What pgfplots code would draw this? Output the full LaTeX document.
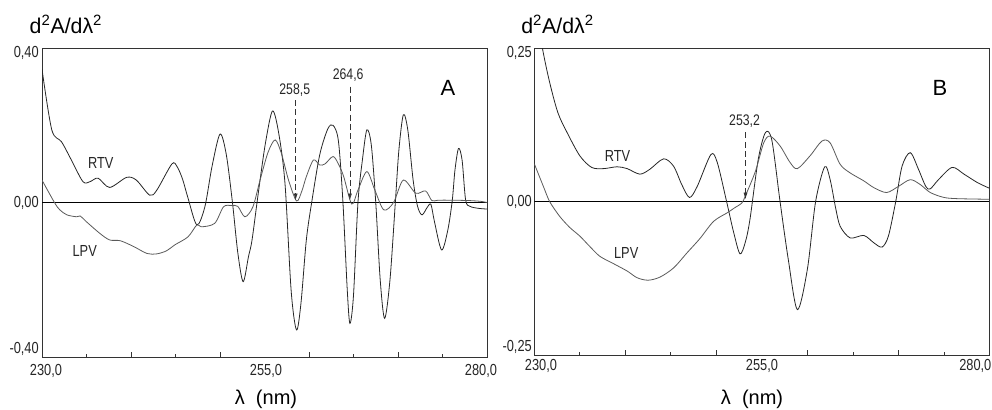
\documentclass[border=0pt]{standalone}
\usepackage{fontspec}
\setmainfont{Liberation Sans}
\usepackage{graphicx}
\usepackage{pgfplots}
\usepackage{pgfplotstable}
\pgfplotsset{compat=1.18}
\usetikzlibrary{arrows.meta}

\pgfplotstableread{
x y
230.0 0.345
231.1 0.188
232.2 0.157
233.3 0.110
234.6 0.054
235.4 0.054
236.3 0.063
237.6 0.039
239.5 0.065
240.6 0.058
242.1 0.019
242.9 0.032
244.6 0.100
245.2 0.092
245.8 0.060
246.4 0.012
247.4 -0.058
248.3 -0.011
249.1 0.093
250.0 0.177
250.7 0.125
251.4 0.000
252.0 -0.130
252.6 -0.205
253.2 -0.140
253.6 -0.097
254.3 0.024
255.1 0.153
255.9 0.237
256.6 0.179
257.3 0.050
258.0 -0.230
258.6 -0.330
259.1 -0.260
259.7 -0.097
260.3 0.000
261.2 0.123
262.1 0.190
262.7 0.200
263.3 0.160
263.8 0.006
264.3 -0.227
264.6 -0.313
265.0 -0.240
265.5 0.000
266.0 0.110
266.5 0.188
267.0 0.149
267.5 0.000
268.0 -0.200
268.5 -0.300
269.1 -0.200
269.7 0.000
270.1 0.136
270.6 0.227
271.1 0.188
271.7 0.058
272.2 -0.010
272.7 -0.032
273.3 -0.012
273.7 -0.005
274.1 -0.050
274.9 -0.123
275.6 -0.071
276.1 0.006
276.4 0.084
276.8 0.140
277.2 0.110
277.6 0.006
278.1 -0.010
279.0 -0.015
280.0 -0.017
}\rtvA

\pgfplotstableread{
x y
230.0 0.058
231.4 0.000
232.0 -0.019
232.8 -0.032
233.9 -0.037
234.3 -0.035
235.0 -0.050
236.5 -0.080
237.6 -0.097
238.8 -0.099
240.3 -0.114
241.8 -0.132
242.9 -0.133
244.0 -0.125
244.9 -0.110
246.4 -0.089
247.4 -0.058
247.9 -0.063
249.4 -0.054
250.4 -0.011
251.3 -0.008
252.0 -0.010
252.8 -0.037
253.7 -0.011
254.5 0.058
255.4 0.130
256.2 0.162
256.9 0.127
257.7 0.058
258.6 0.004
259.2 0.030
259.7 0.067
260.5 0.110
261.2 0.097
261.8 0.100
262.7 0.119
263.3 0.100
263.9 0.067
264.8 -0.004
265.5 0.032
266.5 0.080
267.4 0.032
268.4 -0.019
269.5 0.000
270.6 0.058
272.0 0.024
273.1 0.030
273.8 0.005
274.5 0.006
276.0 0.006
278.0 0.005
279.3 0.003
280.0 0.000
}\lpvA

\pgfplotstableread{
x y
230.0 0.330
230.9 0.250
231.7 0.194
232.6 0.145
233.6 0.113
235.0 0.075
236.3 0.056
237.6 0.054
239.1 0.057
240.2 0.054
241.6 0.045
242.7 0.053
244.2 0.070
245.3 0.058
246.2 0.028
247.05 0.007
247.9 0.025
249.4 0.077
250.1 0.064
251.1 0.002
251.9 -0.050
252.6 -0.085
253.2 -0.065
253.7 -0.028
254.6 0.069
255.4 0.113
256.1 0.100
257.0 0.000
257.9 -0.094
258.9 -0.176
260.0 -0.110
260.9 0.000
261.9 0.057
262.5 0.036
263.1 -0.010
263.6 -0.040
264.7 -0.059
266.2 -0.055
267.3 -0.067
268.2 -0.074
268.9 -0.056
269.7 0.000
270.4 0.058
271.3 0.080
272.2 0.053
273.0 0.025
273.5 0.021
274.4 0.036
275.9 0.056
277.2 0.045
278.7 0.031
280.0 0.022
}\rtvB

\pgfplotstableread{
x y
230.0 0.062
231.0 0.025
231.7 0.000
232.8 -0.024
233.9 -0.042
235.0 -0.056
236.1 -0.073
237.2 -0.089
238.7 -0.101
240.2 -0.113
241.3 -0.124
242.5 -0.128
243.8 -0.123
245.3 -0.108
246.8 -0.083
248.2 -0.060
249.7 -0.032
251.2 -0.018
252.0 -0.010
252.8 -0.002
253.2 0.010
254.3 0.050
255.2 0.096
255.9 0.107
257.0 0.091
258.1 0.064
258.9 0.054
260.3 0.075
261.6 0.099
262.5 0.096
263.6 0.061
264.7 0.047
266.2 0.034
267.3 0.023
268.7 0.015
270.0 0.025
271.3 0.036
272.4 0.028
273.5 0.015
275.0 0.007
276.5 0.005
280.0 0.004
}\lpvB

\newcommand\sq[1]{\scalebox{0.8}[1]{#1}}

\pgfplotsset{
  specstyle/.style={
    scale only axis,
    anchor=south west,
    xmin=230, xmax=280,
    axis line style={black!80, line width=0.6pt},
    xtick={240,250,260,270},
    xticklabels={},
    extra x ticks={235,245,265,275},
    extra x tick labels={},
    extra x tick style={major tick length=2.25pt},
    tick align=inside,
    xtick pos=bottom,
    major tick length=3.75pt,
    ytick=\empty,
    xtick style={black!80, line width=0.5pt},
    clip=true,
  },
  rtv/.style={black!85, line width=0.6pt, smooth, tension=0.5, no markers},
  lpv/.style={black!65, line width=0.6pt, smooth, tension=0.5, no markers},
}
\tikzset{
  tl/.style={font=\fontsize{12}{13}\selectfont, text=black!85, inner sep=0pt},
  ann/.style={font=\fontsize{11.5}{12}\selectfont, text=black!85},
  lab/.style={font=\fontsize{12}{13}\selectfont, text=black!85},
  darr/.style={dash pattern=on 4.5pt off 2.5pt, black!80, line width=0.5pt, -{Latex[length=5pt,width=3pt]}},
}

\begin{document}
\begin{tikzpicture}
\path[use as bounding box] (0,0) rectangle (744pt,307.5pt);

% Panel A
\begin{axis}[specstyle,
  at={(31.5pt,39.75pt)}, width=333.75pt, height=231.75pt,
  ymin=-0.4, ymax=0.4]
\addplot[black, line width=0.6pt] coordinates {(230,0) (280,0)};
\addplot[rtv] table[x=x,y=y] {\rtvA};
\addplot[lpv] table[x=x,y=y] {\lpvA};
\draw[darr] (axis cs:258.5,0.265) -- (axis cs:258.5,0.006);
\draw[darr] (axis cs:264.6,0.300) -- (axis cs:264.6,0.006);
\node[ann] at (axis cs:258.4,0.292) {\sq{258,5}};
\node[ann] at (axis cs:264.4,0.330) {\sq{264,6}};
\node[lab] at (axis cs:236.6,0.102) {\sq{RTV}};
\node[lab] at (axis cs:234.8,-0.126) {\sq{LPV}};
\end{axis}

% Panel B
\begin{axis}[specstyle,
  at={(400.7pt,41.25pt)}, width=341.4pt, height=229.9pt,
  ymin=-0.25, ymax=0.25]
\addplot[black, line width=0.6pt] coordinates {(230,0) (280,0)};
\addplot[rtv] table[x=x,y=y] {\rtvB};
\addplot[lpv] table[x=x,y=y] {\lpvB};
\draw[darr] (axis cs:253.2,0.113) -- (axis cs:253.2,0.004);
\node[ann] at (axis cs:253.1,0.132) {\sq{253,2}};
\node[lab] at (axis cs:239.15,0.074) {\sq{RTV}};
\node[lab] at (axis cs:240.1,-0.083) {\sq{LPV}};
\end{axis}

% Tick labels panel A
\node[tl, anchor=east] at (29.25pt,268.1pt) {\sq{0,40}};
\node[tl, anchor=east] at (29.25pt,155.6pt) {\sq{0,00}};
\node[tl, anchor=east] at (29.25pt,45.75pt) {\sq{-0,40}};
\node[tl] at (34.5pt,29.25pt) {\sq{230,0}};
\node[tl] at (199.5pt,29.25pt) {\sq{255,0}};
\node[tl] at (360.75pt,29.25pt) {\sq{280,0}};
% Tick labels panel B
\node[tl, anchor=east] at (399pt,267.75pt) {\sq{0,25}};
\node[tl, anchor=east] at (399pt,156pt) {\sq{0,00}};
\node[tl, anchor=east] at (399pt,47.25pt) {\sq{-0,25}};
\node[tl] at (405.75pt,33pt) {\sq{230,0}};
\node[tl] at (571.5pt,33pt) {\sq{255,0}};
\node[tl] at (731.5pt,33pt) {\sq{280,0}};

% Titles and labels
\node[anchor=base west, font=\fontsize{16}{18}\selectfont] at (18.75pt,282pt) {d\textsuperscript{2}A/dλ\textsuperscript{2}};
\node[anchor=base west, font=\fontsize{16}{18}\selectfont] at (387.5pt,282pt) {d\textsuperscript{2}A/dλ\textsuperscript{2}};
\node[font=\fontsize{16.5}{18}\selectfont] at (336pt,241.5pt) {A};
\node[font=\fontsize{16.5}{18}\selectfont] at (705pt,241.5pt) {B};
\node[anchor=base, font=\fontsize{15}{17}\selectfont] at (199.5pt,3.75pt) {λ\ \ (nm)};
\node[anchor=base, font=\fontsize{15}{17}\selectfont] at (564pt,3.75pt) {λ\ \ (nm)};
\end{tikzpicture}
\end{document}
